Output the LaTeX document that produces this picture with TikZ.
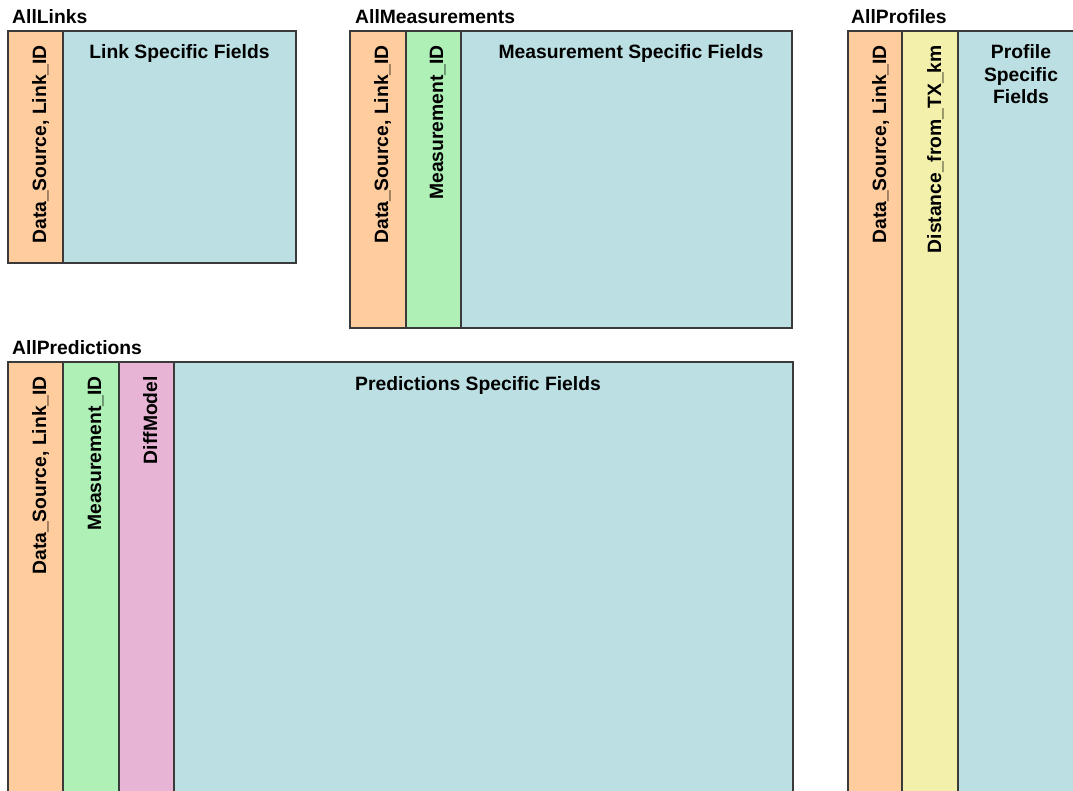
\documentclass[tikz,border=0pt]{standalone}
\usepackage{fontspec}
\setmainfont{Liberation Sans}
\definecolor{corange}{HTML}{FFCC9E}
\definecolor{cgreen}{HTML}{AEF0B6}
\definecolor{cpink}{HTML}{E8B4D6}
\definecolor{cyellow}{HTML}{F2F0AA}
\definecolor{cteal}{HTML}{BBDFE2}
\definecolor{cborder}{HTML}{3A3A3A}
\tikzset{
  boldtxt/.style={font=\fontsize{19.3}{22.5}\selectfont\bfseries, inner sep=0pt, text=black},
  title/.style={boldtxt, anchor=base west},
  vlabel/.style={boldtxt, rotate=90, anchor=base east},
  hlabel/.style={boldtxt, anchor=base},
  colbox/.style={draw=cborder, line width=1.3pt},
}
\begin{document}
\begin{tikzpicture}[x=1pt,y=-1pt]
\useasboundingbox (0,0) rectangle (1073,791);
\begin{scope}
\clip (0,0) rectangle (1073,791);
% AllLinks
\path[colbox, fill=corange] (8,31) rectangle (63,263);
\path[colbox, fill=cteal] (63,31) rectangle (296,263);
% AllMeasurements
\path[colbox, fill=corange] (350,31) rectangle (406,328);
\path[colbox, fill=cgreen] (406,31) rectangle (461,328);
\path[colbox, fill=cteal] (461,31) rectangle (792,328);
% AllProfiles
\path[colbox, fill=corange] (848,31) rectangle (902,800);
\path[colbox, fill=cyellow] (902,31) rectangle (958,800);
\path[colbox, fill=cteal] (958,31) rectangle (1090,800);
% AllPredictions
\path[colbox, fill=corange] (8,362) rectangle (63,800);
\path[colbox, fill=cgreen] (63,362) rectangle (119,800);
\path[colbox, fill=cpink] (119,362) rectangle (174,800);
\path[colbox, fill=cteal] (174,362) rectangle (793,800);
\end{scope}
% titles
\node[title] (tlinks) at (12,24) {AllLinks};
\node[title] (tmeas) at (355,24) {AllMeasurements};
\node[title] (tprof) at (851,24) {AllProfiles};
\node[title] (tpred) at (12,355) {AllPredictions};
% AllLinks labels
\node[vlabel] (l1) at (46,45) {Data\_Source, Link\_ID};
\node[hlabel] (l2) at (179.5,59) {Link Specific Fields};
% AllMeasurements labels
\node[vlabel] (m1) at (388,45) {Data\_Source, Link\_ID};
\node[vlabel] (m2) at (443,45) {Measurement\_ID};
\node[hlabel] (m3) at (631,59) {Measurement Specific Fields};
% AllProfiles labels
\node[vlabel] (p1) at (886,45) {Data\_Source, Link\_ID};
\node[vlabel] (p2) at (941,45) {Distance\_from\_TX\_km};
\node[boldtxt, anchor=north, align=center] (p3) at (1021,44.5) {Profile\\Specific\\Fields};
% AllPredictions labels
\node[vlabel] (r1) at (46,376) {Data\_Source, Link\_ID};
\node[vlabel] (r2) at (101,376) {Measurement\_ID};
\node[vlabel] (r3) at (157,376) {DiffModel};
\node[hlabel] (r4) at (478,390) {Predictions Specific Fields};
\end{tikzpicture}
\end{document}
